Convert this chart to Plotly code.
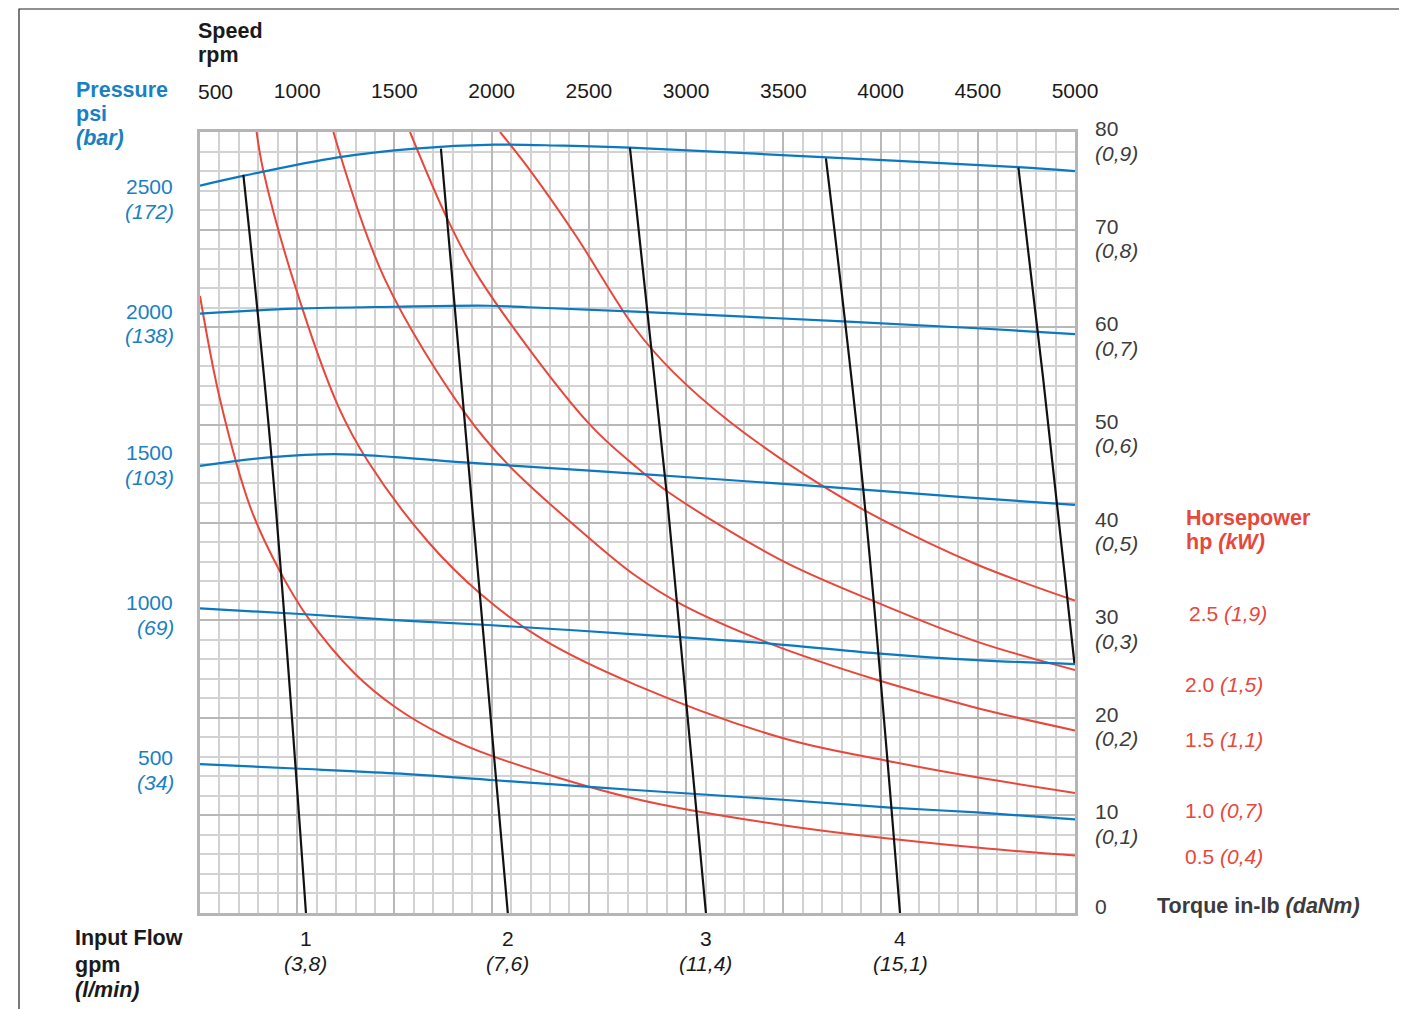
import plotly.graph_objects as go

FONT = "Liberation Sans, Arial, Helvetica, sans-serif"
BLUE = "#0a78c2"
BLUE_TXT = "#1a7fc3"
RED = "#e8473b"
BLACK = "#111111"
DARK = "#1a1a1a"
GRAY_TXT = "#3c3c3c"

# ---------------- data ----------------
speed_ticks = [500, 1000, 1500, 2000, 2500, 3000, 3500, 4000, 4500, 5000]
torque_ticks = [0, 10, 20, 30, 40, 50, 60, 70, 80]
torque_danm = ["", "(0,1)", "(0,2)", "(0,3)", "(0,5)", "(0,6)", "(0,7)", "(0,8)", "(0,9)"]

pressure_psi = ["2500", "2000", "1500", "1000", "500"]
pressure_bar = ["(172)", "(138)", "(103)", "(69)", "(34)"]

hp_labels = ["2.5", "2.0", "1.5", "1.0", "0.5"]
kw_labels = ["(1,9)", "(1,5)", "(1,1)", "(0,7)", "(0,4)"]

flow_gpm = ["1", "2", "3", "4"]
flow_lpm = ["(3,8)", "(7,6)", "(11,4)", "(15,1)"]

# pressure curves (torque in-lb vs speed rpm)
p2500_rpm = [500, 721, 1210, 1606, 2017, 2362, 2711, 3725, 4707, 5000]
p2500_tq = [74.5, 75.5, 77.4, 78.3, 78.7, 78.6, 78.4, 77.4, 76.4, 76.0]
p2000_rpm = [500, 989, 1503, 1981, 2187, 2737, 3807, 4496, 5000]
p2000_tq = [61.4, 61.9, 62.1, 62.2, 62.05, 61.6, 60.6, 59.9, 59.3]
p1500_rpm = [500, 870, 1194, 1503, 1899, 2737, 3689, 4424, 5000]
p1500_tq = [45.8, 46.7, 47.0, 46.7, 46.1, 45.0, 43.7, 42.6, 41.8]
p1000_rpm = [500, 1040, 1503, 1981, 2737, 3431, 3982, 4496, 5000]
p1000_tq = [31.2, 30.6, 30.0, 29.5, 28.55, 27.6, 26.6, 25.9, 25.5]
p500_rpm = [500, 989, 1503, 2017, 2737, 3498, 4049, 4496, 5000]
p500_tq = [15.25, 14.8, 14.3, 13.6, 12.6, 11.6, 10.8, 10.3, 9.6]

# horsepower curves
hp25_rpm = [2043, 2189, 2429, 2737, 2934, 3226, 3689, 3997, 4495, 5000]
hp25_tq = [80, 76.3, 69.5, 59.9, 55.4, 50.3, 43.9, 40.4, 35.7, 32.0]
hp20_rpm = [1580, 1777, 1940, 2497, 2737, 2917, 3483, 3946, 4495, 5000]
hp20_tq = [80, 70.9, 64.9, 50.2, 45.8, 43.0, 36.2, 32.1, 27.8, 24.9]
hp15_rpm = [1186, 1451, 1863, 2086, 2531, 2737, 2969, 3431, 3979, 4495, 5000]
hp15_tq = [80, 64.9, 51.2, 45.9, 37.9, 34.6, 31.7, 27.6, 23.9, 21.0, 18.7]
hp10_rpm = [791, 826, 980, 1211, 1366, 1674, 1948, 2257, 2737, 3500, 4032, 4495, 5000]
hp10_tq = [80, 76.0, 64.8, 51.9, 46.2, 38.0, 32.6, 28.1, 23.4, 17.9, 15.6, 13.9, 12.3]
hp05_rpm = [500, 603, 760, 903, 1057, 1297, 1503, 1750, 2000, 2737, 3498, 4496, 5000]
hp05_tq = [63.2, 52.6, 41.5, 35.3, 30.2, 24.5, 21.1, 18.2, 16.1, 11.7, 9.0, 6.7, 5.9]

# input-flow lines
flow1_rpm = [1045, 869, 723]
flow1_tq = [0, 46.4, 75.6]
flow2_rpm = [2083, 1880, 1739]
flow2_tq = [0, 46.1, 78.3]
flow3_rpm = [3102, 2900, 2711]
flow3_tq = [0, 43.0, 78.4]
flow4_rpm = [4100, 3911, 3719]
flow4_tq = [0, 43.4, 77.3]
flow5_rpm = [4997, 4837, 4709]
flow5_tq = [25.6, 54.6, 76.35]

# ---------------- figure ----------------
OFF = 8                      # page body margin of the written html
W, H = 1407 - OFF, 1009 - OFF
L, T = 200 - OFF, 132 - OFF
PW, PH = 875, 781
R, B = W - L - PW, H - T - PH


def px(x):   # page pixel -> paper x
    return (x - OFF - L) / PW


def py(y):   # page pixel -> paper y
    return (H - B - (y - OFF)) / PH


fig = go.Figure()

hp_curves = [(hp25_rpm, hp25_tq), (hp20_rpm, hp20_tq), (hp15_rpm, hp15_tq),
             (hp10_rpm, hp10_tq), (hp05_rpm, hp05_tq)]
for xs, ys in hp_curves:
    fig.add_trace(go.Scatter(x=xs, y=ys, mode="lines", hoverinfo="skip",
                             line=dict(color=RED, width=2, shape="spline", smoothing=1.0)))

p_curves = [(p2500_rpm, p2500_tq), (p2000_rpm, p2000_tq), (p1500_rpm, p1500_tq),
            (p1000_rpm, p1000_tq), (p500_rpm, p500_tq)]
for xs, ys in p_curves:
    fig.add_trace(go.Scatter(x=xs, y=ys, mode="lines", hoverinfo="skip",
                             line=dict(color=BLUE, width=2.2, shape="spline", smoothing=1.0)))

flow_lines = [(flow1_rpm, flow1_tq), (flow2_rpm, flow2_tq), (flow3_rpm, flow3_tq),
              (flow4_rpm, flow4_tq), (flow5_rpm, flow5_tq)]
for xs, ys in flow_lines:
    fig.add_trace(go.Scatter(x=xs, y=ys, mode="lines", hoverinfo="skip",
                             line=dict(color=BLACK, width=2.2, shape="spline", smoothing=1.0)))

ann = []
PAD = 2  # annotation inner padding


def text(x, y, s, color=DARK, size=21, xanchor="left", xref="paper", yref="paper", xshift=0, yshift=0):
    if xanchor == "left":
        xshift -= PAD
    elif xanchor == "right":
        xshift += PAD
    ann.append(dict(x=x, y=y, xref=xref, yref=yref, text=s, showarrow=False,
                    xanchor=xanchor, yanchor="middle", xshift=xshift, yshift=yshift,
                    font=dict(family=FONT, size=size, color=color)))


BOLD = 21.5
# top-left titles
text(px(198), py(31), "<b>Speed</b>", size=BOLD)
text(px(198), py(55), "<b>rpm</b>", size=BOLD)
text(px(76), py(90), "<b>Pressure</b>", BLUE_TXT, size=BOLD)
text(px(76), py(114), "<b>psi</b>", BLUE_TXT, size=BOLD)
text(px(76), py(138), "<b><i>(bar)</i></b>", BLUE_TXT, size=BOLD)
# first speed label sits just inside the left edge
text(speed_ticks[0], py(91), str(speed_ticks[0]), xref="x", xshift=-2)

# pressure labels
p_label_y = [(186, 211), (311, 336), (452, 477), (602, 627), (757, 782)]
for s, b, (y1, y2) in zip(pressure_psi, pressure_bar, p_label_y):
    text(px(173), py(y1), s, BLUE_TXT, xanchor="right")
    text(px(174), py(y2), "<i>%s</i>" % b, BLUE_TXT, xanchor="right")

# torque labels (right side)
for t, d in zip(torque_ticks, torque_danm):
    text(1, t, str(t), GRAY_TXT, yref="y", xshift=20, yshift=(7 if t == 0 else 3.5))
    if d:
        text(1, t, "<i>%s</i>" % d, GRAY_TXT, yref="y", xshift=20, yshift=-21)

# horsepower labels
text(px(1186), py(518), "<b>Horsepower</b>", RED, size=BOLD)
text(px(1186), py(542), "<b>hp <i>(kW)</i></b>", RED, size=BOLD)
hp_label_pos = [(1189, 613), (1185, 684), (1185, 739), (1185, 810), (1185, 856)]
for h, k, (x0, y0) in zip(hp_labels, kw_labels, hp_label_pos):
    text(px(x0), py(y0), "%s <i>%s</i>" % (h, k), RED)

text(px(1157), py(906), "<b>Torque in-lb <i>(daNm)</i></b>", GRAY_TXT, size=BOLD)

# input flow labels at the zero-torque end of each flow line
flow_bottoms = [flow1_rpm[0], flow2_rpm[0], flow3_rpm[0], flow4_rpm[0]]
for g, l, xr in zip(flow_gpm, flow_lpm, flow_bottoms):
    text(xr, py(938), g, xanchor="center", xref="x")
    text(xr, py(963), "<i>%s</i>" % l, xanchor="center", xref="x")
text(px(75), py(938), "<b>Input Flow</b>", size=BOLD)
text(px(75), py(965), "<b>gpm</b>", size=BOLD)
text(px(75), py(990), "<b><i>(l/min)</i></b>", size=BOLD)

fig.update_layout(
    width=W, height=H,
    margin=dict(l=L, r=R, t=T, b=B, pad=0),
    paper_bgcolor="white", plot_bgcolor="white",
    showlegend=False,
    font=dict(family=FONT, size=21, color=DARK),
    annotations=ann,
    shapes=[dict(type="rect", xref="paper", yref="paper",
                 x0=px(19), x1=px(1440), y0=py(9), y1=py(1040),
                 line=dict(color="#222222", width=1.2), layer="above")],
)

fig.update_xaxes(
    range=[500, 5000], side="top",
    tickmode="array", tickvals=speed_ticks[1:], ticktext=[str(v) for v in speed_ticks[1:]],
    ticks="outside", ticklen=23, tickcolor="rgba(0,0,0,0)",
    tickfont=dict(family=FONT, size=21, color=DARK),
    showgrid=True, gridcolor="#b8b8b8", gridwidth=2,
    minor=dict(dtick=100, tick0=500, showgrid=True, gridcolor="#d2d2d2", gridwidth=1.5, ticks=""),
    showline=True, linecolor="#b5b5b5", linewidth=3, mirror=True,
    zeroline=False, fixedrange=True,
)
fig.update_yaxes(
    range=[0, 80], side="right", showticklabels=False,
    tickmode="array", tickvals=torque_ticks, ticks="",
    showgrid=True, gridcolor="#b8b8b8", gridwidth=2,
    minor=dict(dtick=2, tick0=0, showgrid=True, gridcolor="#d2d2d2", gridwidth=1.5, ticks=""),
    showline=True, linecolor="#b5b5b5", linewidth=3, mirror=True,
    zeroline=False, fixedrange=True,
)

fig.write_html("out.html")
